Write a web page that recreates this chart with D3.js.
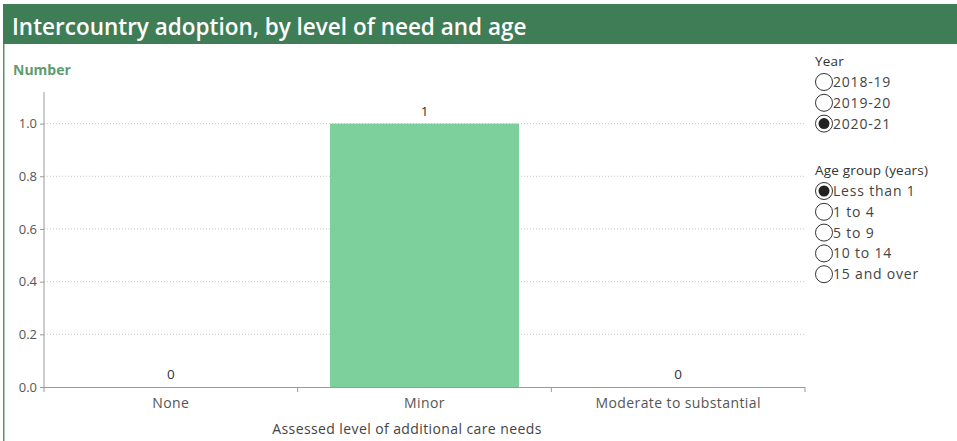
<!DOCTYPE html>
<html>
<head>
<meta charset="utf-8">
<script src="https://cdn.jsdelivr.net/npm/d3@7"></script>
<style>
  html, body { margin: 0; padding: 0; background: #fff; }
  svg { display: block; }
  text { font-family: "Open Sans", Lato, sans-serif; }
</style>
</head>
<body>
<svg id="chart" width="957" height="441"></svg>
<script>
// Chart data
const categories = ["None", "Minor", "Moderate to substantial"];
const values = [0, 1, 0];
const yTicks = [0, 0.2, 0.4, 0.6, 0.8, 1.0];
const yearOptions = ["2018-19", "2019-20", "2020-21"];
const selectedYear = "2020-21";
const ageOptions = ["Less than 1", "1 to 4", "5 to 9", "10 to 14", "15 and over"];
const selectedAge = "Less than 1";

const svg = d3.select("#chart");
const green = "#3f7d57";
const fontBody = "'Open Sans', sans-serif";

// Header banner and left frame line
svg.append("rect").attr("x", 3).attr("y", 4).attr("width", 954).attr("height", 40).attr("fill", green);
svg.append("rect").attr("x", 3).attr("y", 44).attr("width", 1.5).attr("height", 397).attr("fill", "#5b8f6c");
svg.append("text").attr("x", 12).attr("y", 35)
  .attr("fill", "#fff").attr("font-size", 22.5).attr("font-weight", 600)
  .text("Intercountry adoption, by level of need and age");

svg.append("text").attr("x", 13).attr("y", 75)
  .attr("fill", "#5e9c72").attr("font-size", 14).attr("font-weight", 700)
  .text("Number");

const plotLeft = 44, plotRight = 805, plotBottom = 387, plotTop = 92;
const x = d3.scaleBand().domain(categories).range([plotLeft, plotRight]).padding(0);
const y = d3.scaleLinear().domain([0, 1.12]).range([plotBottom, plotTop]);

// Dotted gridlines
svg.append("g").selectAll("line").data(yTicks.filter(d => d > 0)).join("line")
  .attr("x1", plotLeft).attr("x2", plotRight)
  .attr("y1", d => y(d)).attr("y2", d => y(d))
  .attr("stroke", "#c8c8c8").attr("stroke-width", 1).attr("stroke-dasharray", "1,2");

// Bars
const barFrac = 0.745;
svg.append("g").selectAll("rect").data(categories).join("rect")
  .attr("x", d => x(d) + x.bandwidth() * (1 - barFrac) / 2)
  .attr("width", x.bandwidth() * barFrac)
  .attr("y", (d, i) => y(values[i]))
  .attr("height", (d, i) => y(0) - y(values[i]))
  .attr("fill", "#7dcf9b");

// Value labels
svg.append("g").selectAll("text").data(categories).join("text")
  .attr("x", d => x(d) + x.bandwidth() / 2)
  .attr("y", (d, i) => y(values[i]) - 8)
  .attr("text-anchor", "middle").attr("font-size", 13.5).attr("fill", "#333")
  .text((d, i) => d3.format("d")(values[i]));

// Y axis
const yAxis = d3.axisLeft(y).tickValues(yTicks).tickFormat(d3.format(".1f")).tickSize(4).tickPadding(3);
const gy = svg.append("g").attr("transform", `translate(${plotLeft},0)`).call(yAxis);
gy.select(".domain").attr("stroke", "#9a9a9a").attr("d", `M0,${plotTop}V${plotBottom}`);
gy.selectAll(".tick line").attr("stroke", "#9a9a9a");
gy.selectAll(".tick text").attr("font-size", 13).attr("fill", "#555").attr("font-family", fontBody);

// X axis with ticks at band boundaries
svg.append("line").attr("x1", plotLeft).attr("x2", plotRight).attr("y1", plotBottom + 0.5).attr("y2", plotBottom + 0.5)
  .attr("stroke", "#9a9a9a");
const boundaries = categories.map(d => x(d)).concat([plotRight]);
svg.append("g").selectAll("line").data(boundaries).join("line")
  .attr("x1", d => d).attr("x2", d => d).attr("y1", plotBottom).attr("y2", plotBottom + 5)
  .attr("stroke", "#9a9a9a");
svg.append("g").selectAll("text").data(categories).join("text")
  .attr("x", d => x(d) + x.bandwidth() / 2).attr("y", 408)
  .attr("text-anchor", "middle").attr("font-size", 14).attr("letter-spacing", 0.4).attr("fill", "#555")
  .text(d => d);
svg.append("text").attr("x", 407).attr("y", 434)
  .attr("text-anchor", "middle").attr("font-size", 14).attr("letter-spacing", 0.4).attr("fill", "#444")
  .text("Assessed level of additional care needs");

// Radio-button filters
function radioGroup(title, options, selected, y0) {
  const g = svg.append("g");
  g.append("text").attr("x", 815).attr("y", y0).attr("font-size", 13.5).attr("letter-spacing", 0.2)
    .attr("fill", "#333").text(title);
  options.forEach((opt, i) => {
    const cy = y0 + 16 + i * 20.8;
    g.append("circle").attr("cx", 824).attr("cy", cy).attr("r", 8.5)
      .attr("fill", "#fff").attr("stroke", "#333").attr("stroke-width", 1);
    if (opt === selected) {
      g.append("circle").attr("cx", 824).attr("cy", cy).attr("r", 5.5).attr("fill", "#222");
    }
    g.append("text").attr("x", 833).attr("y", cy + 5).attr("font-size", 14).attr("letter-spacing", 0.8)
      .attr("fill", "#444").text(opt);
  });
}
radioGroup("Year", yearOptions, selectedYear, 66);
radioGroup("Age group (years)", ageOptions, selectedAge, 175);
</script>
</body>
</html>
